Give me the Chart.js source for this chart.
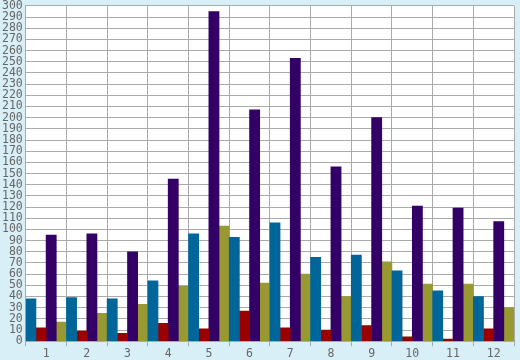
<!DOCTYPE html>
<html>
<head>
<meta charset="utf-8">
<script src="https://cdn.jsdelivr.net/npm/chart.js@4"></script>
<style>
  html, body { margin: 0; padding: 0; background: #d9eff7; overflow: hidden; }
  #wrap { position: relative; top: -4px; width: 520px; height: 364px; }
</style>
</head>
<body>
<div id="wrap"><canvas id="chart"></canvas></div>
<script>
// categories and series
const labels = ['1', '2', '3', '4', '5', '6', '7', '8', '9', '10', '11', '12'];
const blueValues   = [38, 39, 38, 54, 96, 93, 106, 75, 77, 63, 45, 40];
const redValues    = [12, 9, 7, 16, 11, 27, 12, 10, 14, 4, 2, 11];
const purpleValues = [95, 96, 80, 145, 295, 207, 253, 156, 200, 121, 119, 107];
const oliveValues  = [17, 25, 33, 49, 103, 52, 60, 40, 71, 51, 51, 30];

const yMin = 0, yMax = 300, yStep = 10;

// white plot area over the light blue page
const plotBackground = {
    id: 'plotBackground',
    beforeDraw(chart) {
        const { ctx, chartArea: a } = chart;
        ctx.save();
        ctx.fillStyle = '#ffffff';
        ctx.fillRect(a.left, a.top, a.right - a.left, a.bottom - a.top);
        ctx.restore();
    }
};

const tickFont = { family: 'DejaVu Sans Mono', size: 11.5 };

new Chart(document.getElementById('chart'), {
    type: 'bar',
    data: {
        labels,
        datasets: [
            { data: blueValues, backgroundColor: '#006699' },
            { data: redValues, backgroundColor: '#990000' },
            { data: purpleValues, backgroundColor: '#330066' },
            { data: oliveValues, backgroundColor: '#999933' }
        ]
    },
    options: {
        responsive: true,
        maintainAspectRatio: false,
        animation: false,
        layout: { padding: { top: 0, right: 6, left: -1, bottom: -2 } },
        datasets: { bar: { barPercentage: 1, categoryPercentage: 1, borderWidth: 0 } },
        plugins: { legend: { display: false }, tooltip: { enabled: false } },
        scales: {
            x: {
                grid: { color: '#aaaaaa', lineWidth: 1, offset: true, tickLength: 5 },
                border: { color: '#aaaaaa' },
                ticks: { font: tickFont, color: '#666666', padding: 1 }
            },
            y: {
                min: yMin,
                max: yMax,
                grid: { color: '#aaaaaa', lineWidth: 1, drawTicks: false },
                border: { color: '#aaaaaa' },
                ticks: { stepSize: yStep, font: tickFont, color: '#666666', padding: 3, autoSkip: false }
            }
        }
    },
    plugins: [plotBackground]
});
</script>
</body>
</html>
